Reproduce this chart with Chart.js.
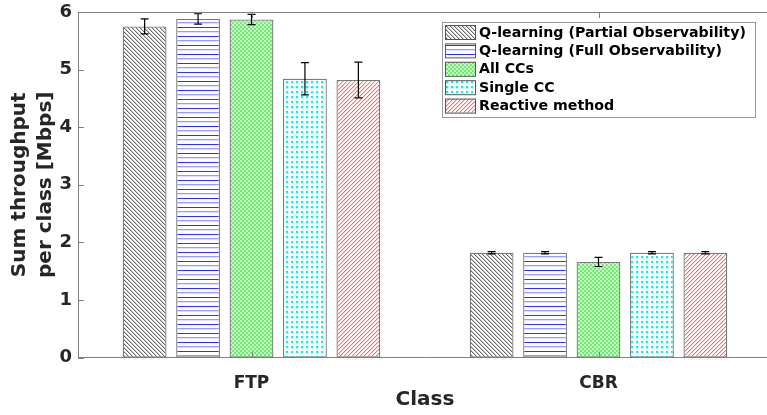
<!DOCTYPE html>
<html>
<head>
<meta charset="utf-8">
<script src="https://cdn.jsdelivr.net/npm/chart.js@4.4.1/dist/chart.umd.min.js"></script>
<style>
  html, body { margin: 0; padding: 0; background: #fff; overflow: hidden; }
  #wrap { width: 775px; height: 415px; position: relative; }
</style>
</head>
<body>
<div id="wrap"><canvas id="throughputChart"></canvas></div>
<script>
// data
const classes = ['FTP', 'CBR'];
const methods = [
    'Q-learning (Partial Observability)',
    'Q-learning (Full Observability)',
    'All CCs',
    'Single CC',
    'Reactive method'
];
const qPartial = [5.75, 1.82];
const qFull = [5.88, 1.82];
const allCCs = [5.87, 1.66];
const singleCC = [4.84, 1.82];
const reactive = [4.82, 1.82];

const qPartialErr = [0.13, 0.02];
const qFullErr = [0.09, 0.02];
const allCCsErr = [0.09, 0.08];
const singleCCErr = [0.28, 0.02];
const reactiveErr = [0.31, 0.02];

const yTicks = [0, 1, 2, 3, 4, 5, 6];

const FONT = '"DejaVu Sans", sans-serif';
const TEXT = '#262626';
const AXIS = '#808080';

const canvas = document.getElementById('throughputChart');
const ctx = canvas.getContext('2d');

// small tiles that repeat as hatch fills
const makePattern = (w, h, draw) => {
    const c = document.createElement('canvas');
    c.width = w;
    c.height = h;
    const g = c.getContext('2d');
    g.fillStyle = '#fff';
    g.fillRect(0, 0, w, h);
    draw(g);
    return ctx.createPattern(c, 'repeat');
};

const px = (g, x, y, col) => { g.fillStyle = col; g.fillRect(x, y, 1, 1); };

const hatchBack = makePattern(4, 4, g => {
    for (let i = 0; i < 4; i++) {
        px(g, i, i, '#6a6a6a');
        px(g, (i + 1) % 4, i, '#cacaca');
    }
});
const hatchHoriz = makePattern(4, 9, g => {
    g.fillStyle = '#3030ff'; g.fillRect(0, 0, 4, 1);
    g.fillStyle = '#9a9aff'; g.fillRect(0, 4, 4, 1);
    g.fillStyle = '#e2e2ff'; g.fillRect(0, 5, 4, 1);
});
const hatchCheck = makePattern(4, 4, g => {
    g.fillStyle = '#6cf06c'; g.fillRect(0, 0, 4, 4);
    g.fillStyle = '#cbf9cb'; g.fillRect(0, 0, 2, 2); g.fillRect(2, 2, 2, 2);
});
const hatchDots = makePattern(5, 5, g => {
    g.fillStyle = '#00f2f2'; g.fillRect(1, 1, 2, 2);
    g.fillStyle = '#c4ffff'; g.fillRect(3, 1, 1, 2); g.fillRect(1, 3, 2, 1);
});
const hatchFwd = makePattern(4, 4, g => {
    for (let i = 0; i < 4; i++) {
        px(g, 3 - i, i, '#ff6a6a');
        px(g, (4 - i) % 4, i, '#ffcfcf');
    }
});

const seriesValues = [qPartial, qFull, allCCs, singleCC, reactive];
const seriesErrors = [qPartialErr, qFullErr, allCCsErr, singleCCErr, reactiveErr];
const fills = [hatchBack, hatchHoriz, hatchCheck, hatchDots, hatchFwd];

const datasets = methods.map((name, i) => ({
    label: name,
    data: seriesValues[i],
    errors: seriesErrors[i],
    backgroundColor: fills[i],
    borderColor: '#7a7a7a',
    borderWidth: 1.3,
    borderSkipped: false,
    categoryPercentage: 0.77,
    barPercentage: 0.82
}));

// error bars from the dataset's own scale
const errorBars = {
    id: 'errorBars',
    afterDatasetsDraw(chart) {
        const c = chart.ctx;
        const y = chart.scales.y;
        c.save();
        c.strokeStyle = '#000';
        c.lineWidth = 1.2;
        chart.data.datasets.forEach((ds, i) => {
            chart.getDatasetMeta(i).data.forEach((bar, j) => {
                const v = ds.data[j];
                const e = ds.errors[j];
                const top = y.getPixelForValue(v + e);
                const bot = y.getPixelForValue(v - e);
                c.beginPath();
                c.moveTo(bar.x, top); c.lineTo(bar.x, bot);
                c.moveTo(bar.x - 4, top); c.lineTo(bar.x + 4, top);
                c.moveTo(bar.x - 4, bot); c.lineTo(bar.x + 4, bot);
                c.stroke();
            });
        });
        c.restore();
    }
};

// matlab style box with inward ticks
const boxTicks = {
    id: 'boxTicks',
    afterDatasetsDraw(chart) {
        const c = chart.ctx;
        const { top, bottom, left, right } = chart.chartArea;
        const { x, y } = chart.scales;
        c.save();
        c.strokeStyle = AXIS;
        c.lineWidth = 1;
        c.beginPath();
        c.moveTo(left, top + 0.5); c.lineTo(right, top + 0.5);
        yTicks.forEach(t => {
            const py = Math.round(y.getPixelForValue(t)) + 0.5;
            c.moveTo(left, py); c.lineTo(left + 6, py);
        });
        classes.forEach((_, i) => {
            const pxl = Math.round(x.getPixelForValue(i)) + 0.5;
            c.moveTo(pxl, bottom); c.lineTo(pxl, bottom - 6);
            c.moveTo(pxl, top); c.lineTo(pxl, top + 6);
        });
        c.stroke();
        c.restore();
    }
};

const legendBox = {
    id: 'legendBox',
    afterDraw(chart) {
        const c = chart.ctx;
        const bx = 442, by = 22, bw = 313, bh = 95;
        c.save();
        c.fillStyle = '#fff';
        c.fillRect(bx, by, bw, bh);
        c.strokeStyle = '#9a9a9a';
        c.lineWidth = 1;
        c.strokeRect(bx + 0.5, by + 0.5, bw, bh);
        c.font = 'bold 14.2px ' + FONT;
        c.textBaseline = 'middle';
        chart.data.datasets.forEach((ds, i) => {
            const cy = by + 10 + i * 18.4;
            c.fillStyle = ds.backgroundColor;
            c.fillRect(bx + 3, cy - 7, 30, 14);
            c.strokeStyle = '#555';
            c.strokeRect(bx + 3.5, cy - 6.5, 30, 14);
            c.fillStyle = '#000';
            c.fillText(ds.label, bx + 37, cy + 1);
        });
        c.restore();
    }
};

new Chart(ctx, {
    type: 'bar',
    data: { labels: classes, datasets: datasets },
    plugins: [errorBars, boxTicks, legendBox],
    options: {
        responsive: true,
        maintainAspectRatio: false,
        animation: false,
        devicePixelRatio: 1,
        layout: { padding: { top: 12, right: 3, left: 0, bottom: 0 } },
        plugins: {
            legend: { display: false },
            tooltip: { enabled: false }
        },
        scales: {
            x: {
                afterFit: s => { s.height = 57.5; },
                grid: { display: false, drawTicks: false },
                border: { display: true, color: AXIS, width: 1 },
                ticks: {
                    padding: 16,
                    color: TEXT,
                    font: { family: FONT, size: 17, weight: 'bold' }
                },
                title: {
                    display: true,
                    text: 'Class',
                    color: TEXT,
                    padding: { top: 0, bottom: 3 },
                    font: { family: FONT, size: 20, weight: 'bold' }
                }
            },
            y: {
                min: 0,
                max: 6,
                afterFit: s => { s.width = 78; },
                afterBuildTicks: s => { s.ticks = yTicks.map(v => ({ value: v })); },
                grid: { display: false, drawTicks: false },
                border: { display: true, color: AXIS, width: 1 },
                ticks: {
                    padding: 6,
                    color: TEXT,
                    font: { family: FONT, size: 18, weight: 'bold', lineHeight: 0.5 }
                },
                title: {
                    display: true,
                    text: ['Sum throughput', 'per class [Mbps]'],
                    color: TEXT,
                    padding: { top: 7, bottom: 0 },
                    font: { family: FONT, size: 20, weight: 'bold', lineHeight: 1.3 }
                }
            }
        }
    }
});
</script>
</body>
</html>
